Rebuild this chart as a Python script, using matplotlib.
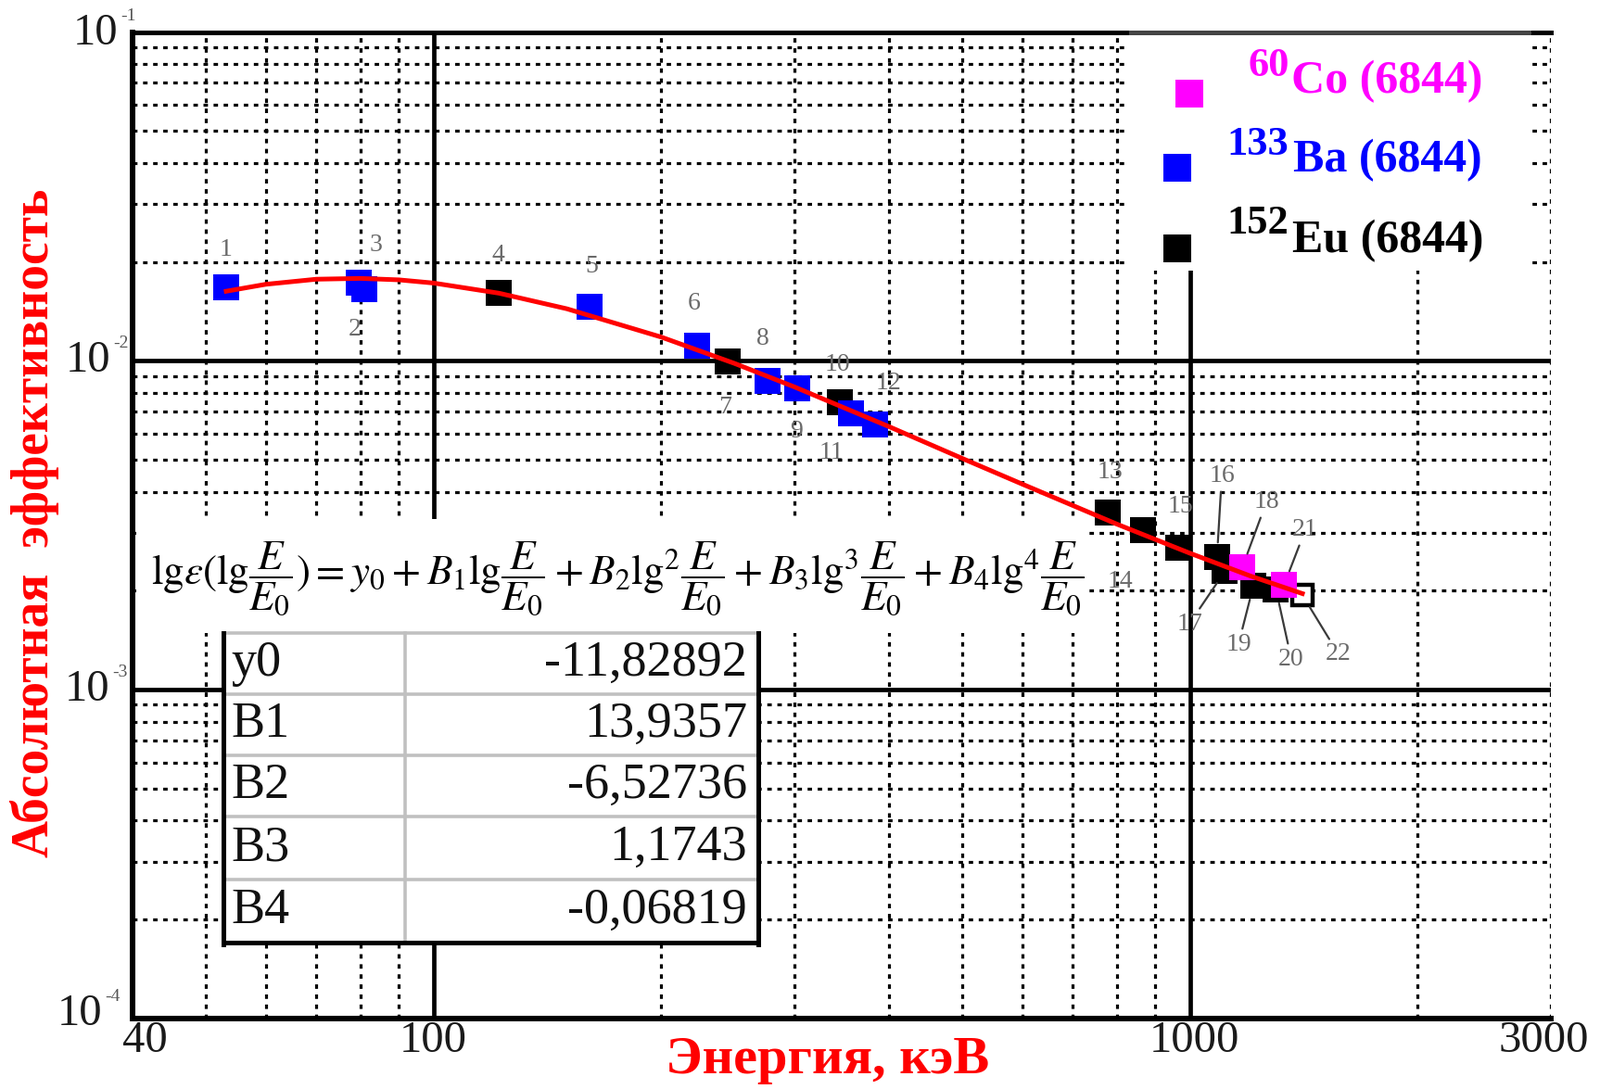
import matplotlib
matplotlib.use('Agg')
import matplotlib.pyplot as plt
from matplotlib.lines import Line2D
from matplotlib.patches import Rectangle
from matplotlib.ticker import LogLocator, NullFormatter
import matplotlib.transforms as mtrans
import numpy as np

W, H = 1726, 1175

# ---------------- data ----------------
ba_num = [1, 2, 3, 5, 6, 8, 9, 11, 12]
ba_E = [53.2, 79.6, 81.0, 160.6, 223.2, 276.4, 302.9, 356.0, 383.8]
ba_eff = [0.0167, 0.0173, 0.0165, 0.0146, 0.0111, 0.00869, 0.00823, 0.00692, 0.00640]

eu_num = [4, 7, 10, 13, 14, 15, 16, 17, 19, 20, 22]
eu_E = [121.8, 244.7, 344.3, 778.9, 867.4, 964.1, 1085.8, 1112.1, 1212.9, 1299.1, 1408.0]
eu_eff = [0.0161, 0.00995, 0.00747, 0.00346, 0.00305, 0.00271, 0.00254, 0.00229,
          0.00207, 0.00202, 0.00194]

co_num = [18, 21]
co_E = [1173.2, 1332.5]
co_eff = [0.00236, 0.00209]

fit_E = [53.2, 60, 70, 80, 90, 100, 122, 150, 200, 250, 300, 400, 500, 600, 800,
         1000, 1200, 1408]
fit_eff = [0.01628, 0.01709, 0.01771, 0.01781, 0.01763, 0.01724, 0.01606, 0.01440,
           0.01181, 0.00982, 0.00833, 0.00631, 0.00505, 0.00422, 0.00319, 0.00260,
           0.00222, 0.00196]

coef_names = ['y0', 'B1', 'B2', 'B3', 'B4']
coef_values = ['-11,82892', '13,9357', '-6,52736', '1,1743', '-0,06819']

x_ticks = [40, 100, 1000, 3000]
x_ticklabels = ['40', '100', '1000', '3000']
y_ticks = [1e-1, 1e-2, 1e-3, 1e-4]
y_tick_exps = ['-1', '-2', '-3', '-4']

legend_isotopes = ['60', '133', '152']
legend_elements = ['Co (6844)', 'Ba (6844)', 'Eu (6844)']

# ---------------- layout helpers ----------------
def fx(px):
    return px / W

def fy(py):
    return 1 - py / H

SERIF = ['Liberation Serif', 'DejaVu Serif']
plt.rcParams['font.family'] = SERIF
plt.rcParams['mathtext.fontset'] = 'stix'

fig = plt.figure(figsize=(W / 100, H / 100), dpi=100)
ax_left, ax_right, ax_top, ax_bottom = 143, 1673, 34.5, 1099
ax = fig.add_axes([fx(ax_left), fy(ax_bottom), (ax_right - ax_left) / W,
                   (ax_bottom - ax_top) / H])
ax.set_xscale('log')
ax.set_yscale('log')
ax.set_xlim(40, 3000)
ax.set_ylim(1e-4, 1e-1)

ax.xaxis.set_major_locator(LogLocator(base=10, numticks=10))
ax.xaxis.set_minor_locator(LogLocator(base=10, subs=np.arange(2, 10), numticks=30))
ax.yaxis.set_major_locator(LogLocator(base=10, numticks=10))
ax.yaxis.set_minor_locator(LogLocator(base=10, subs=np.arange(2, 10), numticks=30))
ax.xaxis.set_minor_formatter(NullFormatter())
ax.yaxis.set_minor_formatter(NullFormatter())
ax.tick_params(which='both', length=0, labelbottom=False, labelleft=False)

ax.set_axisbelow(True)
ax.grid(True, which='major', color='black', lw=3.4, ls='-')
ax.grid(True, which='minor', color='black', lw=2.3, ls=(0, (1.5, 1.9)))

for side in ['left', 'bottom']:
    ax.spines[side].set_linewidth(4.3)
ax.spines['top'].set_linewidth(3.6)
ax.spines['right'].set_visible(False)

# ---------------- marks ----------------
ms = 19.5
ax.plot(eu_E[:-1], eu_eff[:-1], ls='none', marker='s', ms=ms, mew=0,
        color='black', zorder=3)
ax.plot(eu_E[-1:], eu_eff[-1:], ls='none', marker='s', ms=16, mew=3.2,
        mfc='white', mec='black', zorder=3)
ax.plot(ba_E, ba_eff, ls='none', marker='s', ms=ms, mew=0, color='#0000ff', zorder=4)
ax.plot(co_E, co_eff, ls='none', marker='s', ms=ms, mew=0, color='#ff00ff', zorder=4)
ax.plot(fit_E, fit_eff, color='#ff0000', lw=3.6, zorder=6, solid_joinstyle='miter')

# ---------------- point labels ----------------
label_pos = {1: (244, 270), 2: (383, 356), 3: (405, 264), 4: (537, 275),
             5: (638, 288), 6: (749, 328), 7: (782, 440), 8: (823, 365),
             9: (859, 466), 10: (903, 393), 11: (897, 488), 12: (958, 414),
             13: (1197, 509), 14: (1208, 627), 15: (1273, 546), 16: (1318, 514),
             17: (1283, 673), 18: (1366, 542), 19: (1336, 695), 20: (1393, 711),
             21: (1408, 572), 22: (1444, 706)}
leader = {16, 17, 18, 19, 20, 21, 22}

all_pts = {}
for n, e, v in zip(ba_num, ba_E, ba_eff):
    all_pts[n] = (e, v)
for n, e, v in zip(eu_num, eu_E, eu_eff):
    all_pts[n] = (e, v)
for n, e, v in zip(co_num, co_E, co_eff):
    all_pts[n] = (e, v)

for n in sorted(all_pts):
    e, v = all_pts[n]
    px, py = label_pos[n]
    kw = {}
    if n in leader:
        kw['arrowprops'] = dict(arrowstyle='-', color='#3a3a3a', lw=1.6,
                                shrinkA=1, shrinkB=11)
    ax.annotate(str(n), xy=(e, v), xycoords='data',
                xytext=(fx(px), fy(py)), textcoords='figure fraction',
                ha='center', va='center', fontsize=20, color='#6a6a6a',
                zorder=7, annotation_clip=False, **kw)

# ---------------- tick labels ----------------
xblend = mtrans.blended_transform_factory(ax.transData, ax.transAxes)
x_dx = [13, 0, 5, -8]
for t, lab, dx in zip(x_ticks, x_ticklabels, x_dx):
    ax.annotate(lab, xy=(t, 0), xycoords=xblend, xytext=(dx, -24),
                textcoords='offset pixels', ha='center', va='center',
                fontsize=35, color='#1a1a1a', annotation_clip=False)

yblend = mtrans.blended_transform_factory(ax.transAxes, ax.transData)
y_dx = [-16, -24, -25, -33]
y_dy = [-2, 0, 0, 5]
for t, ex, dx, dy in zip(y_ticks, y_tick_exps, y_dx, y_dy):
    ax.annotate('10', xy=(0, t), xycoords=yblend, xytext=(dx, dy),
                textcoords='offset pixels', ha='right', va='center',
                fontsize=35, color='#1a1a1a', annotation_clip=False)
    ax.annotate(ex, xy=(0, t), xycoords=yblend, xytext=(dx + 3, dy + 19),
                textcoords='offset pixels', ha='left', va='center',
                fontsize=14, color='#555555', annotation_clip=False)

# ---------------- axis titles ----------------
fig.text(fx(38), fy(564), 'Абсолютная  эффективность', rotation=90, color='#ff0000',
         fontsize=40, fontweight='bold', ha='center', va='center')
fig.text(fx(893), fy(1144), 'Энергия, кэВ', color='#ff0000', fontsize=42,
         fontweight='bold', ha='center', va='center')

# ---------------- equation box ----------------
fig.add_artist(Rectangle((fx(146.5), fy(683)), (1170 - 146.5) / W, (683 - 560) / H,
                         transform=fig.transFigure, fc='white', ec='none', zorder=1))
eq = (r'$\mathrm{lg}\varepsilon(\mathrm{lg}\dfrac{E}{E_0})=y_0+B_1\mathrm{lg}\dfrac{E}{E_0}'
      r'+B_2\mathrm{lg}^2\dfrac{E}{E_0}+B_3\mathrm{lg}^3\dfrac{E}{E_0}'
      r'+B_4\mathrm{lg}^4\dfrac{E}{E_0}$')
fig.text(fx(163), fy(624), eq, fontsize=32.5, color='black', ha='left', va='center',
         zorder=2)

# ---------------- table ----------------
t_left, t_right, t_div = 241, 818, 437
row_edges = [683, 749, 815, 881, 949, 1017]
fig.add_artist(Rectangle((fx(t_left), fy(row_edges[-1])), (t_right - t_left) / W,
                         (row_edges[-1] - row_edges[0]) / H,
                         transform=fig.transFigure, fc='white', ec='none', zorder=1))
for yy in row_edges[:-1]:
    fig.add_artist(Line2D([fx(t_left), fx(t_right)], [fy(yy), fy(yy)],
                          color='#c0c0c0', lw=2.6, zorder=2))
fig.add_artist(Line2D([fx(t_div), fx(t_div)], [fy(row_edges[0]), fy(row_edges[-1])],
                      color='#c0c0c0', lw=2.6, zorder=2))
for xx in [t_left, t_right]:
    fig.add_artist(Line2D([fx(xx), fx(xx)], [fy(row_edges[0]), fy(row_edges[-1] + 2)],
                          color='black', lw=3.6, zorder=3))
fig.add_artist(Line2D([fx(t_left), fx(t_right)], [fy(row_edges[-1]), fy(row_edges[-1])],
                      color='black', lw=3.6, zorder=3, solid_capstyle='projecting'))
for i, (nm, val) in enumerate(zip(coef_names, coef_values)):
    yc = (row_edges[i] + row_edges[i + 1]) / 2
    fig.text(fx(249), fy(yc), nm, fontsize=39, ha='left', va='center', zorder=4,
             color='#111111')
    fig.text(fx(806), fy(yc), val, fontsize=39, ha='right', va='center', zorder=4,
             color='#111111')

# ---------------- legend ----------------
fig.add_artist(Rectangle((fx(1218), fy(292)), (1652 - 1218) / W, (292 - 37) / H,
                         transform=fig.transFigure, fc='white', ec='none', zorder=1))
fig.add_artist(Line2D([fx(1220), fx(1649)], [fy(ax_top), fy(ax_top)],
                      color='#444444', lw=3.6, zorder=2))
leg_colors = ['#ff00ff', '#0000ff', 'black']
leg_marker = [(1283, 101), (1270, 181), (1270, 268)]
leg_sup = [(1369, 71), (1357, 156), (1357, 241)]
leg_txt = [(1393, 88), (1395, 173), (1394, 260)]
for iso, el, c, mk, sp, tx in zip(legend_isotopes, legend_elements, leg_colors,
                                  leg_marker, leg_sup, leg_txt):
    fig.add_artist(Line2D([fx(mk[0])], [fy(mk[1])], ls='none', marker='s', ms=22,
                          mew=0, color=c, zorder=3))
    fig.text(fx(sp[0]), fy(sp[1]), iso, color=c, fontsize=32, fontweight='bold',
             ha='center', va='center', zorder=3)
    fig.text(fx(tx[0]), fy(tx[1]), el, color=c, fontsize=36, fontweight='bold',
             ha='left', va='center', zorder=3)

fig.savefig('out.png', dpi=100)
